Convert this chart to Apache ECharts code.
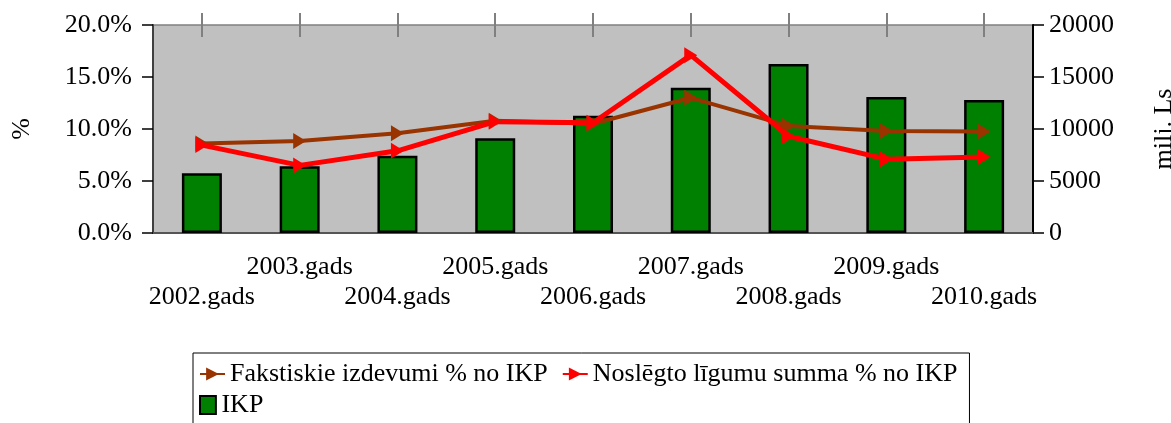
<!DOCTYPE html>
<html>
<head>
<meta charset="utf-8">
<script src="https://cdn.jsdelivr.net/npm/echarts@6/dist/echarts.min.js"></script>
<style>
  html, body { margin: 0; padding: 0; background: #fff; }
  #main { width: 1171px; height: 423px; }
</style>
</head>
<body>
<div id="main"></div>
<script>
// dati
var years = ['2002.gads', '2003.gads', '2004.gads', '2005.gads', '2006.gads', '2007.gads', '2008.gads', '2009.gads', '2010.gads']
var fakstiskie = [8.6, 8.85, 9.6, 10.8, 10.5, 13.0, 10.3, 9.8, 9.75]
var noslegto = [8.45, 6.5, 7.9, 10.7, 10.6, 17.1, 9.3, 7.1, 7.3]
var ikp = [5740, 6410, 7420, 9100, 11280, 13970, 16250, 13080, 12790]

var font = 'Liberation Serif'
var chart = echarts.init(document.getElementById('main'))

var legendText = { fontFamily: font, fontSize: 26, color: '#000' }

chart.setOption({
  animation: false,
  textStyle: { fontFamily: font },
  grid: [
    {
      left: 153,
      right: 138,
      top: 25,
      bottom: 190,
      containLabel: false,
      outerBoundsMode: 'none',
      show: true,
      backgroundColor: '#C0C0C0',
      borderColor: '#808080',
      borderWidth: 1.5
    },
    {
      // tikai augšējām iedaļām, kas krusto rāmi
      left: 153,
      right: 138,
      top: 12,
      height: 1,
      containLabel: false,
      outerBoundsMode: 'none',
      show: false
    }
  ],
  legend: [
    {
      data: ['Fakstiskie izdevumi % no IKP', 'Noslēgto līgumu summa % no IKP'],
      left: 193,
      top: 353,
      padding: [8, 12, 50, 6],
      itemGap: 14,
      itemWidth: 25,
      itemHeight: 16,
      borderColor: '#000',
      borderWidth: 1,
      borderRadius: 0,
      textStyle: legendText
    },
    {
      data: [{ name: 'IKP', icon: 'path://M0,0H15V17H0Z' }],
      left: 193,
      top: 392,
      padding: [0, 0, 0, 6],
      itemWidth: 17,
      itemHeight: 18,
      textStyle: legendText
    }
  ],
  xAxis: [
    {
      type: 'category',
      data: years,
      position: 'bottom',
      axisLine: { lineStyle: { color: '#555', width: 2 } },
      axisTick: { alignWithLabel: true, length: 11, lineStyle: { color: '#000', width: 1.5 } },
      axisLabel: {
        interval: 0,
        hideOverlap: false,
        margin: 19,
        fontFamily: font,
        fontSize: 26,
        color: '#000',
        lineHeight: 30,
        formatter: function (v, i) {
          return i % 2 ? v + '\n ' : ' \n' + v
        }
      }
    },
    {
      gridIndex: 1,
      type: 'category',
      data: years,
      position: 'bottom',
      axisLine: { show: true, lineStyle: { color: '#808080', opacity: 0 } },
      axisTick: { show: true, alignWithLabel: true, interval: 0, length: 24, lineStyle: { color: '#808080', width: 2 } },
      axisLabel: { show: true, interval: 0, formatter: function () { return '' } },
      splitLine: { show: false }
    }
  ],
  yAxis: [
    {
      type: 'value',
      min: 0,
      max: 20,
      interval: 5,
      name: '%',
      nameLocation: 'middle',
      nameRotate: 90,
      nameGap: 118,
      nameTextStyle: { fontFamily: font, fontSize: 26, color: '#000' },
      splitLine: { show: false },
      axisLine: { show: true, lineStyle: { color: '#404040', width: 2 } },
      axisTick: { show: true, length: 11, lineStyle: { color: '#000', width: 1.5 } },
      axisLabel: {
        margin: 21,
        fontFamily: font,
        fontSize: 26,
        color: '#000',
        formatter: function (v) { return v.toFixed(1) + '%' }
      }
    },
    {
      type: 'value',
      min: 0,
      max: 20000,
      interval: 5000,
      name: 'milj. Ls',
      nameLocation: 'middle',
      nameRotate: 90,
      nameGap: 118,
      nameTextStyle: { fontFamily: font, fontSize: 26, color: '#000' },
      splitLine: { show: false },
      axisLine: { show: true, lineStyle: { color: '#000', width: 2 } },
      axisTick: { show: true, length: 11, lineStyle: { color: '#000', width: 1.5 } },
      axisLabel: {
        margin: 16,
        fontFamily: font,
        fontSize: 26,
        color: '#000',
        formatter: function (v) { return String(v) }
      }
    },
    {
      gridIndex: 1,
      type: 'value',
      show: false
    }
  ],
  series: [
    {
      name: 'Fakstiskie izdevumi % no IKP',
      type: 'line',
      yAxisIndex: 0,
      data: fakstiskie,
      symbol: 'triangle',
      symbolSize: [16, 13],
      symbolRotate: -90,
      showAllSymbol: true,
      lineStyle: { color: '#993300', width: 4 },
      itemStyle: { color: '#993300' }
    },
    {
      name: 'Noslēgto līgumu summa % no IKP',
      type: 'line',
      yAxisIndex: 0,
      data: noslegto,
      symbol: 'triangle',
      symbolSize: [16, 13],
      symbolRotate: -90,
      showAllSymbol: true,
      lineStyle: { color: '#FF0000', width: 5 },
      itemStyle: { color: '#FF0000' }
    },
    {
      name: 'IKP',
      type: 'bar',
      yAxisIndex: 1,
      z: 3,
      data: ikp,
      barWidth: 40,
      itemStyle: { color: '#008000', borderColor: '#000', borderWidth: 2.5 }
    }
  ]
})
</script>
</body>
</html>
